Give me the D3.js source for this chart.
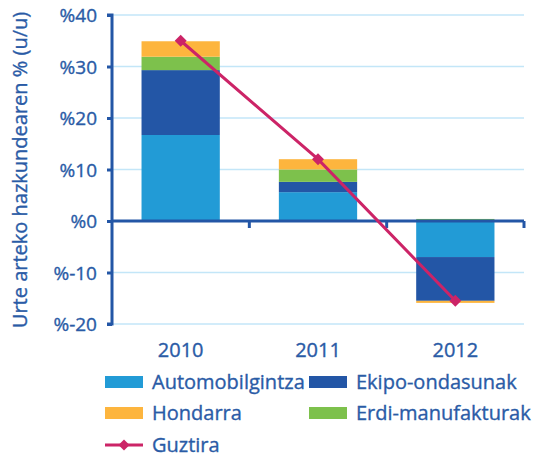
<!DOCTYPE html>
<html><head><meta charset="utf-8">
<script src="https://cdn.jsdelivr.net/npm/d3@7"></script>
<style>body{margin:0;background:#fff}svg{display:block}text{paint-order:stroke}</style>
</head><body><svg id="c" width="535" height="457"></svg>
<script>
const years = ["2010","2011","2012"];
const seriesNames = ["Automobilgintza","Ekipo-ondasunak","Erdi-manufakturak","Hondarra"];
const automobilgintza = [16.7, 5.6, -7.0];
const ekipoOndasunak = [12.6, 2.0, -8.5];
const erdiManufakturak = [2.6, 2.4, 0.4];
const hondarra = [3.0, 2.0, -0.4];
const guztira = [35.0, 12.0, -15.5];
const yTicks = [-20,-10,0,10,20,30,40];
const colors = {"Automobilgintza":"#229bd6","Ekipo-ondasunak":"#2356a6","Erdi-manufakturak":"#7dc14c","Hondarra":"#fdb53e","Guztira":"#cc2467"};
const textColor = "#2a5ba6";
const FONT = "'Open Sans', sans-serif";

const svg = d3.select("#c");
const x0 = 112, x1 = 524;
const x = d3.scaleBand().domain(years).range([x0, x1]).paddingInner(0.43).paddingOuter(0.215);
const xc = d3.scaleBand().domain(years).range([x0, x1]);
const y = d3.scaleLinear().domain([-20, 40]).range([324, 15]);

function styleText(sel, size) {
  sel.attr("fill", textColor).attr("stroke", textColor).attr("stroke-width", 0.35)
    .style("font-family", FONT).style("font-size", size + "px");
}

// gridlines
svg.append("g").selectAll("line").data(yTicks.filter(t => t !== 0)).join("line")
  .attr("x1", x0).attr("x2", x1).attr("y1", d => y(d)).attr("y2", d => y(d))
  .attr("stroke", "#c3e6f8").attr("stroke-width", 1.5);

// stacked bars
const seriesVals = [automobilgintza, ekipoOndasunak, erdiManufakturak, hondarra];
const rows = years.map((yr, i) => {
  const r = {year: yr};
  seriesNames.forEach((s, k) => r[s] = seriesVals[k][i]);
  return r;
});
const stack = d3.stack().keys(seriesNames).offset(d3.stackOffsetDiverging);
const stacked = stack(rows);
svg.append("g").selectAll("g").data(stacked).join("g")
  .attr("fill", d => colors[d.key])
  .selectAll("rect").data(d => d).join("rect")
  .attr("x", d => x(d.data.year)).attr("width", x.bandwidth())
  .attr("y", d => y(Math.max(d[0], d[1])))
  .attr("height", d => Math.abs(y(d[0]) - y(d[1])));

// axes
const axisColor = "#2356a6";
const yAxis = svg.append("g").attr("transform", `translate(${x0},0)`)
  .call(d3.axisLeft(y).tickValues(yTicks).tickSize(5).tickPadding(10).tickFormat(d => "%" + d));
yAxis.select(".domain").attr("stroke", axisColor).attr("stroke-width", 3).attr("d", `M-5,${y(40)}H0V${y(-20)}H-5`);
yAxis.selectAll(".tick line").attr("stroke", axisColor).attr("stroke-width", 3);
yAxis.selectAll(".tick text").call(styleText, 19).attr("dy", "0.35em");

const xAxis = svg.append("g").attr("transform", `translate(0,${y(0)})`)
  .call(d3.axisBottom(xc).tickSize(0).tickPadding(0).tickFormat(""));
xAxis.select(".domain").attr("stroke", axisColor).attr("stroke-width", 3).attr("d", `M${x0},0H${x1}`);
xAxis.selectAll(".tick").remove();
xAxis.selectAll("line.sep").data(years).join("line").attr("class","sep")
  .attr("x1", d => xc(d) + xc.bandwidth()).attr("x2", d => xc(d) + xc.bandwidth())
  .attr("y1", 0).attr("y2", 7).attr("stroke", axisColor).attr("stroke-width", 3);

// category labels
svg.append("g").selectAll("text").data(years).join("text")
  .attr("x", d => xc(d) + xc.bandwidth() / 2).attr("y", 357)
  .attr("text-anchor", "middle").call(styleText, 20).text(d => d);

// line
const line = d3.line().x((d, i) => xc(years[i]) + xc.bandwidth() / 2).y(d => y(d));
svg.append("path").datum(guztira).attr("d", line).attr("fill", "none")
  .attr("stroke", colors["Guztira"]).attr("stroke-width", 3);
svg.append("g").selectAll("path").data(guztira).join("path")
  .attr("d", d3.symbol().type(d3.symbolSquare).size(72))
  .attr("transform", (d, i) => `translate(${xc(years[i]) + xc.bandwidth() / 2},${y(d)}) rotate(45)`)
  .attr("fill", colors["Guztira"]);

// y title
svg.append("text").attr("transform", `translate(27,170) rotate(-90)`)
  .attr("text-anchor", "middle").call(styleText, 20)
  .text("Urte arteko hazkundearen % (u/u)");

// legend
const legendItems = [
  {name: "Automobilgintza", col: 0, row: 0},
  {name: "Ekipo-ondasunak", col: 1, row: 0},
  {name: "Hondarra", col: 0, row: 1},
  {name: "Erdi-manufakturak", col: 1, row: 1},
  {name: "Guztira", col: 0, row: 2, line: true}
];
const colX = [105, 309], rowY = [382, 413, 445];
const lg = svg.append("g").selectAll("g").data(legendItems).join("g")
  .attr("transform", d => `translate(${colX[d.col]},${rowY[d.row]})`);
lg.filter(d => !d.line).append("rect").attr("x", 0).attr("y", -6).attr("width", 38).attr("height", 12)
  .attr("fill", d => colors[d.name]);
lg.filter(d => d.line).append("line").attr("x1", 0).attr("x2", 38).attr("y1", 0).attr("y2", 0)
  .attr("stroke", d => colors[d.name]).attr("stroke-width", 3);
lg.filter(d => d.line).append("path").attr("d", d3.symbol().type(d3.symbolSquare).size(60))
  .attr("transform", "translate(19,0) rotate(45)").attr("fill", d => colors[d.name]);
lg.append("text").attr("x", 47).attr("y", 0).attr("dy", "0.35em")
  .call(styleText, 20).text(d => d.name);
</script></body></html>
